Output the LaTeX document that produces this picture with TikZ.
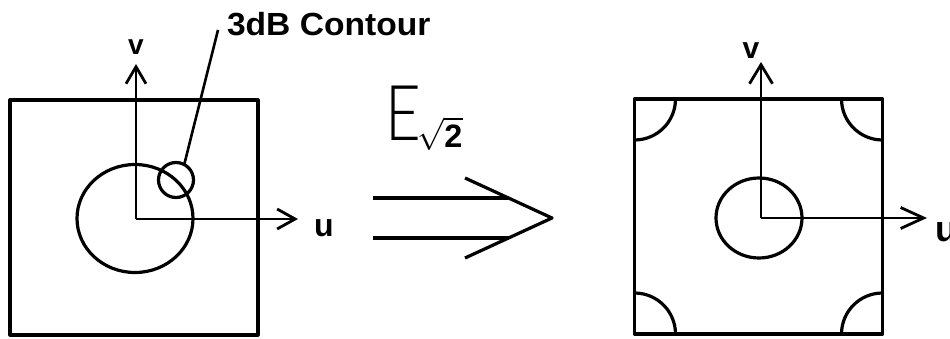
\documentclass[tikz,border=0pt]{standalone}
\usepackage{fontspec}
\setmainfont{Liberation Sans}
\newfontfamily\elight{Lato}[UprightFont={* Light}]
\usetikzlibrary{arrows.meta}
\begin{document}
\begin{tikzpicture}[x=1pt,y=-1pt,line join=round,
  frame/.style={draw,line width=3.2pt,inner sep=0pt,outer sep=0pt,minimum width=248pt,minimum height=235pt},
  axis/.style={line width=2.8pt},
  curve/.style={line width=3.2pt},
  lbl/.style={inner sep=0pt,outer sep=0pt}]
\useasboundingbox (0,0) rectangle (950,339);

% ---- left panel ----
\node[frame] (box1) at (134,217.5) {};
\coordinate (o1) at (136,219);
\coordinate (v1) at (136,64);
\coordinate (u1) at (298,219);
\draw[axis,-{Straight Barb[length=17pt,width=20pt]}] (o1) -- (v1);
\draw[axis,-{Straight Barb[length=18pt,width=20pt]}] (o1) -- (u1);
\node[lbl,font=\bfseries\fontsize{28}{28}\selectfont] (vl1) at (136,47) {v};
\node[lbl,font=\bfseries\fontsize{32}{32}\selectfont] (ul1) at (324,228) {u};
\draw[curve] (135,218.5) ellipse [x radius=58,y radius=54];
\node[draw,curve,circle,minimum size=35pt,inner sep=0pt,outer sep=0pt] (sc) at (176,180) {};
\coordinate (lt) at (218,30);
\draw[line width=2.6pt] (sc.62) -- (lt);
\node[lbl,anchor=base west,font=\bfseries\fontsize{32}{32}\selectfont] (contour) at (227,36) {\scalebox{1.05}[1]{3dB Contour}};

% ---- middle arrow ----
\node[lbl,font=\elight\fontsize{77}{77}\selectfont] (E) at (403,113.5) {\scalebox{0.8}[1]{E}};
\node[lbl,font=\bfseries\fontsize{12}{12}\selectfont] (sq) at (440,134) {\scalebox{2.7}{$\sqrt{\hbox{2}}$}};
\coordinate (a1) at (373,198);
\coordinate (a2) at (508,198);
\coordinate (b1) at (373,238);
\coordinate (b2) at (508.5,238);
\coordinate (c1) at (465,178);
\coordinate (tip) at (552,218);
\coordinate (c2) at (465,258);
\draw[curve] (a1) -- (a2);
\draw[curve] (b1) -- (b2);
\draw[curve] (c1) -- (tip) -- (c2);

% ---- right panel ----
\node[frame] (box2) at (758.5,216.5) {};
\coordinate (o2) at (761,218);
\coordinate (v2) at (761,62);
\coordinate (u2) at (927,218);
\draw[axis,-{Straight Barb[length=19pt,width=23pt]}] (o2) -- (v2);
\draw[axis,-{Straight Barb[length=23pt,width=21pt]}] (o2) -- (u2);
\node[lbl,font=\bfseries\fontsize{30}{30}\selectfont] (vl2) at (751,51) {v};
\node[lbl,font=\bfseries\fontsize{36}{36}\selectfont] (ul2) at (946,232) {u};
\draw[curve] (759,218) ellipse [x radius=43,y radius=40];
\draw[curve] ([xshift=41pt]box2.north west) arc[start angle=0,end angle=90,radius=41];
\draw[curve] ([xshift=-41pt]box2.north east) arc[start angle=180,end angle=90,radius=41];
\draw[curve] ([yshift=41pt]box2.south west) arc[start angle=-90,end angle=0,radius=41];
\draw[curve] ([xshift=-41pt]box2.south east) arc[start angle=180,end angle=270,radius=41];
\end{tikzpicture}
\end{document}
